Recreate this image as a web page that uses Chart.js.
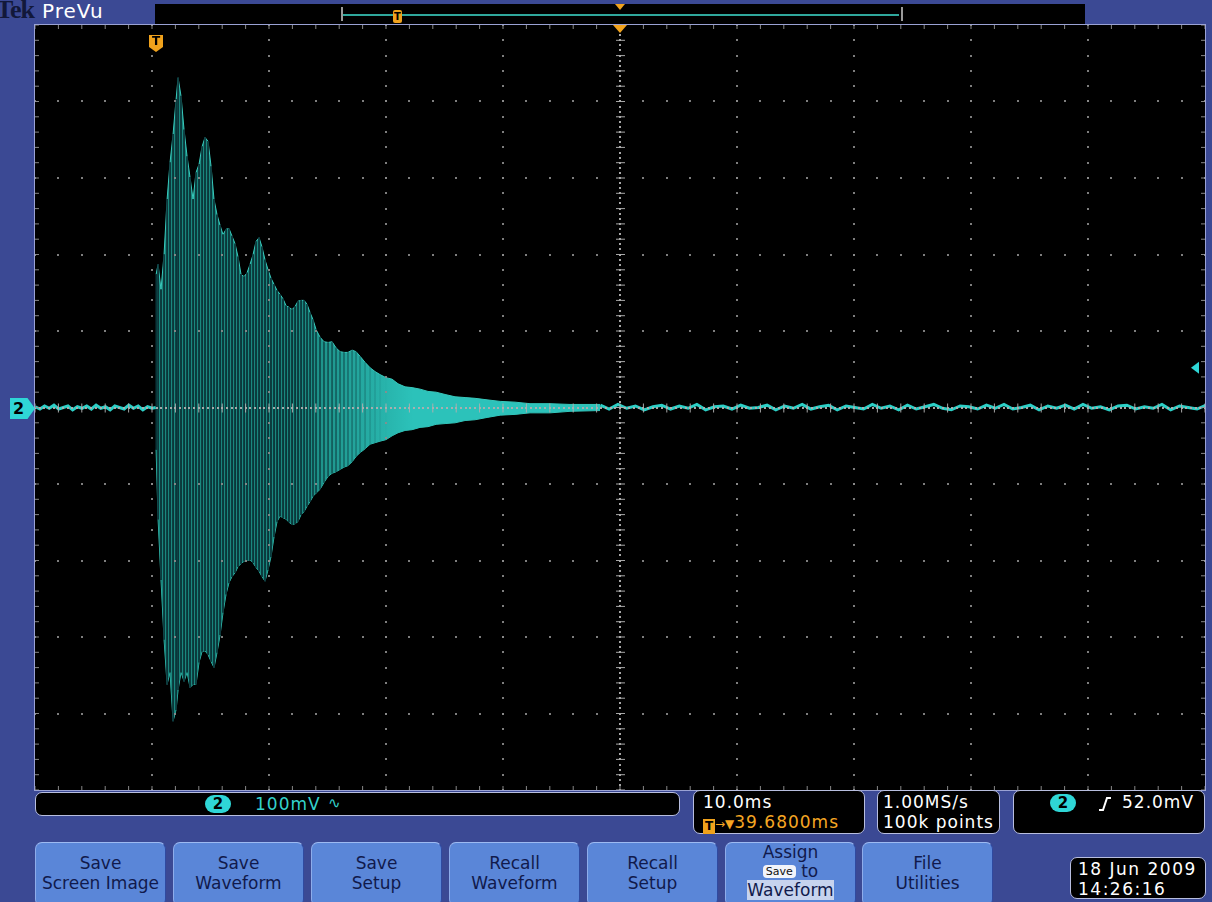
<!DOCTYPE html>
<html>
<head>
<meta charset="utf-8">
<title>Tek PreVu</title>
<script src="https://cdn.jsdelivr.net/npm/chart.js@4.4.1/dist/chart.umd.min.js"></script>
<style>
  body { margin: 0; width: 1212px; height: 902px; overflow: hidden; position: relative;
         background: #3b4994; font-family: "DejaVu Sans", sans-serif; }
  .abs { position: absolute; }
  #tek { left: -4px; top: -5px; font: bold 26px "Liberation Serif", serif; color: #12183a; letter-spacing: -1px; }
  #prevu { left: 42px; top: -1px; font-size: 20px; color: #fff; letter-spacing: 1px; }
  #strip { left: 155px; top: 4px; width: 930px; height: 21px; background: #000; }
  #recBox { left: 341px; top: 7px; width: 558px; height: 14px; border-left: 2px solid #9a9a9a; border-right: 2px solid #9a9a9a; }
  #recLine { left: 343px; top: 14px; width: 556px; height: 2px; background: #2fa79c; }
  #recT { left: 393px; top: 10px; width: 9px; height: 13px; background: #f0a21c; border-radius: 2px;
          font: bold 10px "DejaVu Sans"; color: #000; text-align: center; line-height: 13px; }
  #recTri { left: 615px; top: 4px; width: 0; height: 0; border-left: 5px solid transparent;
            border-right: 5px solid transparent; border-top: 6px solid #f0a21c; }
  #frame { left: 34px; top: 24px; width: 1170px; height: 765px; border: 1px solid #9aa2d4; background: #000; }
  #screen { left: 35px; top: 25px; width: 1170px; height: 765px; }
  #ch2 { left: 10px; top: 398px; width: 25px; height: 21px; background: #2fd6d6;
         clip-path: polygon(0 0, 70% 0, 100% 50%, 70% 100%, 0 100%);
         font: bold 16px "DejaVu Sans"; color: #000; line-height: 21px; padding-left: 3px; box-sizing: border-box; }
  .box { background: #000; border: 1px solid #b8bedf; border-radius: 7px; box-sizing: border-box; color: #fff;
         font-size: 17px; letter-spacing: 1px; line-height: 20px; }
  .badge { display: inline-block; background: #2fd6d6; color: #000; font-weight: bold; border-radius: 10px;
           width: 26px; height: 18px; line-height: 18px; text-align: center; font-size: 15px; letter-spacing: 0; }
  #vbox { left: 35px; top: 792px; width: 645px; height: 24px; }
  #tbox { left: 693px; top: 790px; width: 172px; height: 44px; padding: 1px 0 0 9px; }
  #sbox { left: 877px; top: 790px; width: 123px; height: 44px; padding: 1px 0 0 5px; }
  #trbox { left: 1013px; top: 790px; width: 192px; height: 44px; }
  .btn { top: 842px; width: 131px; height: 64px; background: #5a86d8; border-radius: 7px;
         border-top: 1px solid #9dbaf2; border-left: 1px solid #8eacea; border-right: 1px solid #2f4aa0;
         box-sizing: border-box; text-align: center; color: #111a4c; font-size: 17px; line-height: 20px; padding-top: 10px; }
  #date { left: 1070px; top: 857px; width: 136px; height: 42px; padding: 1px 0 0 7px; font-size: 17px; letter-spacing: 1.5px; }
</style>
</head>
<body>
<div class="abs" id="tek">Tek</div>
<div class="abs" id="prevu">PreVu</div>
<div class="abs" id="strip"></div>
<div class="abs" id="recBox"></div>
<div class="abs" id="recLine"></div>
<div class="abs" id="recT">T</div>
<div class="abs" id="recTri"></div>
<div class="abs" id="frame"></div>
<div class="abs" id="screen"><canvas id="scope" width="1170" height="765"></canvas></div>
<div class="abs" id="ch2">2</div>

<div class="abs box" id="vbox">
  <span class="abs badge" style="left:169px;top:2px">2</span>
  <span class="abs" style="left:219px;top:1px;color:#34d2cc">100mV</span>
  <span class="abs" style="left:292px;top:0px;color:#34d2cc;font-size:15px">&#8767;</span>
</div>
<div class="abs box" id="tbox">
  <div>10.0ms</div>
  <div style="color:#f5a623"><span style="display:inline-block;width:12px;height:15px;background:#f0a21c;color:#000;font-weight:bold;font-size:12px;line-height:15px;text-align:center;letter-spacing:0;vertical-align:-2px">T</span><span style="font-size:12px;letter-spacing:0">&#8594;&#9660;</span>39.6800ms</div>
</div>
<div class="abs box" id="sbox">
  <div>1.00MS/s</div>
  <div>100k points</div>
</div>
<div class="abs box" id="trbox">
  <span class="abs badge" style="left:36px;top:3px">2</span>
  <svg class="abs" style="left:84px;top:5px" width="14" height="16"><polyline points="1,14 5,14 9,2 13,2" fill="none" stroke="#fff" stroke-width="2"/></svg>
  <span class="abs" style="left:108px;top:1px">52.0mV</span>
</div>

<div class="abs btn" style="left:35px">Save<br>Screen Image</div>
<div class="abs btn" style="left:173px">Save<br>Waveform</div>
<div class="abs btn" style="left:311px">Save<br>Setup</div>
<div class="abs btn" style="left:449px">Recall<br>Waveform</div>
<div class="abs btn" style="left:587px">Recall<br>Setup</div>
<div class="abs btn" style="left:725px;padding-top:0;line-height:19px">Assign<br><span style="display:inline-block;background:#f2f4fa;color:#111;border-radius:4px;font-size:11px;line-height:13px;padding:0 3px;vertical-align:2px">Save</span> to<br><span style="background:#c7d3ee">Waveform</span></div>
<div class="abs btn" style="left:862px">File<br>Utilities</div>
<div class="abs box" id="date">18 Jun 2009<br>14:26:16</div>

<script>
// acquisition settings
const timePerDiv = 10;        // ms/div
const voltsPerDiv = 100;      // mV/div
const trigToCenter = 39.68;   // ms from trigger point to screen centre
const triggerLevel = 52;      // mV

// decaying burst: envelope of the channel 2 trace, time in ms after trigger
const burstTimes = [0.03, 0.20, 0.45, 0.71, 0.97, 1.22, 1.48, 1.74, 1.91, 2.16, 2.42, 2.68, 2.93, 3.19, 3.44,
  3.70, 3.96, 4.21, 4.47, 4.73, 4.98, 5.24, 5.50, 5.75, 6.01, 6.26, 6.52, 6.78, 7.03, 7.29, 7.55, 7.80, 8.06,
  8.32, 8.57, 8.83, 9.08, 9.34, 9.60, 9.85, 10.11, 10.37, 10.62, 10.88, 11.14, 11.39, 11.65, 11.91, 12.16,
  12.42, 12.68, 12.93, 13.19, 13.44, 13.70, 14.04, 14.38, 14.73, 15.07, 15.41, 15.75, 16.09, 16.43, 16.78,
  17.12, 17.46, 17.89, 18.32, 18.74, 19.17, 19.68, 20.20, 20.71, 21.31, 21.91, 22.59, 23.27, 23.96, 24.73,
  25.58, 26.44, 27.29, 28.32, 29.44, 30.71, 31.99, 33.70, 35.41, 37.97];
const burstUpper = [174, 187, 154, 200, 272, 320, 357, 403, 431, 407, 363, 328, 301, 272, 307,
  318, 341, 353, 348, 315, 272, 252, 238, 226, 233, 234, 224, 214, 197, 174, 171, 176, 187,
  200, 217, 222, 210, 193, 180, 169, 161, 153, 148, 142, 133, 131, 128, 132, 139,
  140, 140, 135, 124, 115, 102, 92, 86, 85, 86, 78, 73, 72, 72, 75,
  73, 67, 59, 52, 47, 43, 39, 37, 31, 27, 26, 24, 21, 20, 17,
  14, 13, 12, 10, 8, 7, 5, 5, 4, 4];
const burstLower = [-55, -146, -225, -303, -362, -346, -410, -395, -369, -346, -358, -346, -366, -362, -362,
  -333, -319, -318, -323, -332, -340, -320, -297, -268, -244, -229, -221, -216, -208, -204, -201, -200, -199,
  -203, -209, -214, -221, -227, -212, -195, -169, -149, -142, -144, -146, -150, -153, -152, -149,
  -140, -136, -129, -123, -116, -112, -107, -98, -90, -86, -84, -81, -78, -76, -71,
  -64, -59, -54, -48, -46, -44, -42, -37, -33, -30, -29, -26, -25, -22, -21,
  -20, -17, -16, -13, -10, -9, -7, -7, -5, -4];

// quiet baseline before and after the burst
const preTimes = [-10.3, -9.9, -9.5, -9.1, -8.7, -8.3, -7.9, -7.5, -7.1, -6.7, -6.3, -5.9, -5.5, -5.1,
  -4.7, -4.3, -3.9, -3.5, -3.1, -2.7, -2.3, -1.9, -1.5, -1.1, -0.7, -0.3, 0];
const preLevels = [1, -2, 2, -1, 3, -2, 0, 2, -3, 1, -1, 2, -2, 3, -1, 1, -3, 2, 0, -2, 3, -1, 2, -3, 1, -1, 0];
const postTimes = [38.0, 38.75, 39.5, 40.25, 41.0, 41.75, 42.5, 43.25, 44.0, 44.75, 45.5, 46.25, 47.0, 47.75,
  48.5, 49.25, 50.0, 50.75, 51.5, 52.25, 53.0, 53.75, 54.5, 55.25, 56.0, 56.75, 57.5, 58.25, 59.0, 59.75,
  60.5, 61.25, 62.0, 62.75, 63.5, 64.25, 65.0, 65.75, 66.5, 67.25, 68.0, 68.75, 69.5, 70.25, 71.0, 71.75,
  72.5, 73.25, 74.0, 74.75, 75.5, 76.25, 77.0, 77.75, 78.5, 79.25, 80.0, 80.75, 81.5, 82.25, 83.0, 83.75,
  84.5, 85.25, 86.0, 86.75, 87.5, 88.25, 89.0, 89.75];
const postLevels = [3, -2, 4, -1, 2, -3, 1, 3, -2, 2, -1, 4, -3, 1, 2, -2, 3, -1, 0, 3,
  -3, 2, -1, 4, -2, 1, 3, -3, 2, 0, -2, 4, -1, 2, -3, 3, -2, 1, 4, -1,
  -3, 2, 1, -2, 3, -1, 4, -2, 0, 3, -3, 2, -1, 3, -2, 4, -1, 1, -3, 2,
  3, -2, 1, -1, 4, -3, 2, 0, -2, 3];

// screen time is measured from the centre of the graticule
const toScreen = t => t - trigToCenter;
const pts = (ts, vs) => ts.map((t, i) => ({ x: toScreen(t), y: vs[i] }));

function bandColor(context) {
  const { chart } = context;
  if (!chart.chartArea) return '#1a877e';
  const xs = chart.scales.x;
  const g = chart.ctx.createLinearGradient(xs.getPixelForValue(toScreen(12)), 0, xs.getPixelForValue(toScreen(22)), 0);
  g.addColorStop(0, '#1a877e');
  g.addColorStop(1, '#2cc2ba');
  return g;
}

// strokes are distinct early on and blur together as the ring-down gets denser
function gapColor(context) {
  const t = burstTimes[context.dataIndex] || 0;
  const a = t < 12 ? 0.85 : Math.max(0, 0.85 - (t - 12) * 0.11);
  return `rgba(8,40,46,${a.toFixed(2)})`;
}

const graticule = {
  id: 'graticule',
  afterDatasetsDraw(chart) {
    const { ctx, chartArea: a, scales: { x, y } } = chart;
    const half = 5;
    ctx.save();
    ctx.fillStyle = 'rgba(140,140,140,0.9)';
    const dot = (px, py) => ctx.fillRect(Math.round(px) - 1, Math.round(py) - 1, 2, 2);

    for (let d = -half + 1; d < half; d++) {
      if (d === 0) continue;
      const px = x.getPixelForValue(d * timePerDiv);
      const py = y.getPixelForValue(d * voltsPerDiv);
      for (let k = -half * 5; k <= half * 5; k++) {
        dot(px, y.getPixelForValue(k * voltsPerDiv / 5));
        dot(x.getPixelForValue(k * timePerDiv / 5), py);
      }
    }

    // centre crosshair, finer dots plus minor ticks
    const cx = x.getPixelForValue(0), cy = y.getPixelForValue(0);
    ctx.fillStyle = 'rgba(175,175,175,0.95)';
    for (let k = -half * 15; k <= half * 15; k++) dot(cx, y.getPixelForValue(k * voltsPerDiv / 15));
    for (let k = -half * 25; k <= half * 25; k++) dot(x.getPixelForValue(k * timePerDiv / 25), cy);
    for (let k = -half * 5; k <= half * 5; k++) {
      const py = y.getPixelForValue(k * voltsPerDiv / 5);
      ctx.fillRect(cx - 4, py - 0.5, 9, 1);
      const px = x.getPixelForValue(k * timePerDiv / 5);
      ctx.fillRect(px - 0.5, cy - 4, 1, 9);
    }

    // edge ticks
    ctx.fillStyle = 'rgba(150,150,150,0.9)';
    for (let k = -half * 5; k <= half * 5; k++) {
      const px = x.getPixelForValue(k * timePerDiv / 5);
      ctx.fillRect(px - 0.5, a.top, 1, 4);
      ctx.fillRect(px - 0.5, a.bottom - 4, 1, 4);
      const py = y.getPixelForValue(k * voltsPerDiv / 5);
      ctx.fillRect(a.left, py - 0.5, 4, 1);
      ctx.fillRect(a.right - 4, py - 0.5, 4, 1);
    }
    ctx.restore();
  },
  afterDraw(chart) {
    const { ctx, chartArea: a, scales: { x, y } } = chart;
    ctx.save();
    // trigger position marker
    const tx = Math.round(x.getPixelForValue(toScreen(0)));
    ctx.fillStyle = '#f0a21c';
    ctx.beginPath();
    ctx.moveTo(tx - 7, a.top + 10);
    ctx.lineTo(tx + 7, a.top + 10);
    ctx.lineTo(tx + 7, a.top + 22);
    ctx.lineTo(tx, a.top + 27);
    ctx.lineTo(tx - 7, a.top + 22);
    ctx.closePath();
    ctx.fill();
    ctx.fillStyle = '#000';
    ctx.font = 'bold 12px "DejaVu Sans"';
    ctx.textAlign = 'center';
    ctx.textBaseline = 'middle';
    ctx.fillText('T', tx, a.top + 17);
    // expansion point at screen centre
    const cx = x.getPixelForValue(0);
    ctx.fillStyle = '#f0a21c';
    ctx.beginPath();
    ctx.moveTo(cx - 7, a.top);
    ctx.lineTo(cx + 7, a.top);
    ctx.lineTo(cx, a.top + 8);
    ctx.closePath();
    ctx.fill();
    // trigger level
    const ly = y.getPixelForValue(triggerLevel);
    ctx.fillStyle = '#2fd6d6';
    ctx.beginPath();
    ctx.moveTo(a.right - 14, ly);
    ctx.lineTo(a.right - 6, ly - 6);
    ctx.lineTo(a.right - 6, ly + 6);
    ctx.closePath();
    ctx.fill();
    ctx.restore();
  }
};

new Chart(document.getElementById('scope'), {
  type: 'line',
  data: {
    datasets: [
      { data: pts(burstTimes, burstUpper), fill: '+1', backgroundColor: bandColor,
        borderColor: '#38c9bc', borderWidth: 1, pointRadius: 0, order: 5 },
      { data: pts(burstTimes, burstLower), fill: false, borderColor: '#38c9bc', borderWidth: 1, pointRadius: 0, order: 5 },
      // dark gaps between the oscillation strokes
      { type: 'bar', data: burstTimes.map((t, i) => ({ x: toScreen(t), y: [burstLower[i], burstUpper[i]] })),
        backgroundColor: gapColor, barThickness: 1.2, grouped: false, order: 4 },
      { data: pts(preTimes, preLevels), borderColor: '#2ccfc6', borderWidth: 3, pointRadius: 0, order: 1 },
      { data: pts(postTimes, postLevels), borderColor: '#2ccfc6', borderWidth: 3, pointRadius: 0, order: 1 }
    ]
  },
  options: {
    responsive: false,
    animation: false,
    devicePixelRatio: 1,
    layout: { padding: 0 },
    plugins: { legend: { display: false }, tooltip: { enabled: false } },
    scales: {
      x: { type: 'linear', min: -5 * timePerDiv, max: 5 * timePerDiv, offset: false, display: false },
      y: { type: 'linear', min: -5 * voltsPerDiv, max: 5 * voltsPerDiv, display: false }
    }
  },
  plugins: [graticule]
});
</script>
</body>
</html>
